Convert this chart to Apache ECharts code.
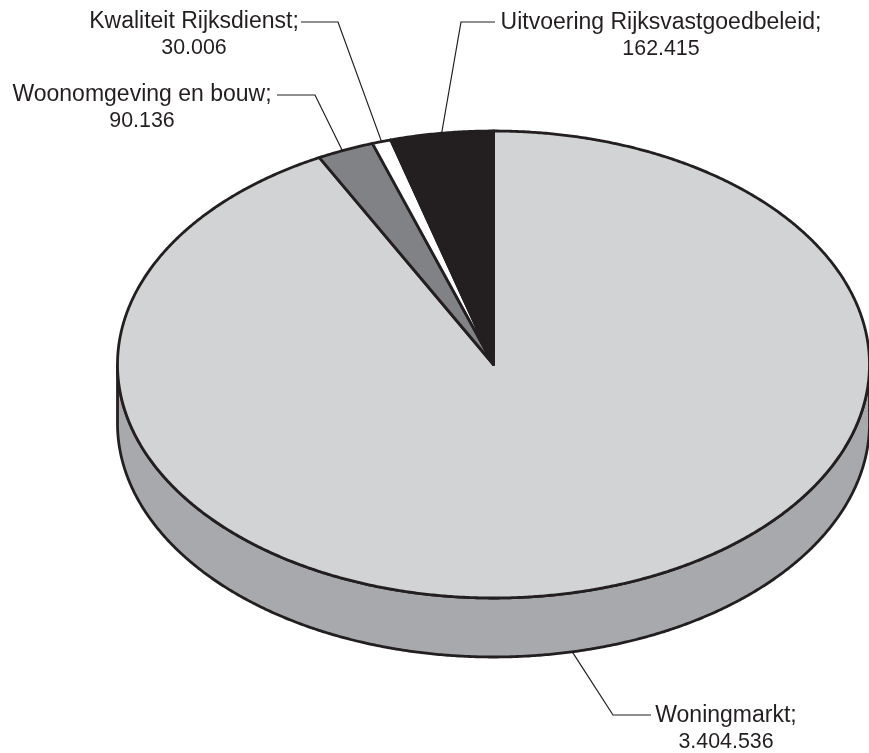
<!DOCTYPE html>
<html>
<head>
<meta charset="utf-8">
<title>Woningmarkt</title>
<script src="https://cdn.jsdelivr.net/npm/echarts@6/dist/echarts.min.js"></script>
<style>
    html, body { margin: 0; padding: 0; background: #fff; }
    #chart { width: 869px; height: 753px; }
</style>
</head>
<body>
<div id="chart"></div>
<script>
// data, clockwise from 12 o'clock
var categories = ['Woningmarkt', 'Woonomgeving en bouw', 'Kwaliteit Rijksdienst', 'Uitvoering Rijksvastgoedbeleid'];
var amounts = [3404536, 90136, 30006, 162415];

// styling per slice
var sliceColors = ['#d1d3d4', '#808285', '#ffffff', '#231f20'];
var wallColor = '#a7a9ac';
var inkColor = '#231f20';

// the tilted disc
var disc = { cx: 493.5, cy: 364.5, rx: 376, ry: 233.5, depth: 59 };

// label placement: text centre, elbow and end of the leader, nudge of the anchor in degrees
var labelSpots = [
    { x: 726, y: 729, elbow: [613, 715], end: [651, 715], nudge: 1.7, onWall: true },
    { x: 142, y: 108, elbow: [315, 95], end: [277, 95], nudge: -0.5 },
    { x: 194, y: 35, elbow: [338, 22], end: [301, 22], nudge: 0 },
    { x: 661, y: 36, elbow: [461, 22], end: [495, 22], nudge: 0 }
];

var total = amounts.reduce(function (a, b) { return a + b; }, 0);

function formatAmount(v) {
    return String(v).replace(/\B(?=(\d{3})+$)/g, '.');
}

// deg is clockwise from the top of the disc
function rimPoint(deg, drop) {
    var rad = deg * Math.PI / 180;
    return [
        disc.cx + disc.rx * Math.sin(rad),
        disc.cy - disc.ry * Math.cos(rad) + (drop || 0)
    ];
}

function arcPoints(from, to, drop) {
    var pts = [];
    var steps = Math.max(2, Math.ceil(Math.abs(to - from) * 3));
    for (var i = 0; i <= steps; i++) {
        pts.push(rimPoint(from + (to - from) * i / steps, drop));
    }
    return pts;
}

function renderSlice(params, api) {
    var i = params.dataIndex;
    var before = 0;
    for (var k = 0; k < i; k++) before += amounts[k];
    var start = before / total * 360;
    var end = (before + api.value(0)) / total * 360;
    var children = [];

    // side wall, only on the front half of the disc
    var wallFrom = Math.max(start, 90);
    var wallTo = Math.min(end, 270);
    if (wallTo > wallFrom) {
        children.push({
            type: 'polygon',
            shape: { points: arcPoints(wallFrom, wallTo, 0).concat(arcPoints(wallTo, wallFrom, disc.depth)) },
            style: { fill: wallColor, stroke: inkColor, lineWidth: 2.8, lineJoin: 'round' }
        });
    }

    children.push({
        type: 'polygon',
        shape: { points: [[disc.cx, disc.cy]].concat(arcPoints(start, end, 0)) },
        style: { fill: sliceColors[i], stroke: inkColor, lineWidth: 2.8, lineJoin: 'round' }
    });

    var spot = labelSpots[i];
    var anchor = rimPoint((start + end) / 2 + spot.nudge, spot.onWall ? disc.depth : 0);
    children.push({
        type: 'polyline',
        shape: { points: [anchor, spot.elbow, spot.end] },
        style: { fill: 'none', stroke: inkColor, lineWidth: 1.2 }
    });
    children.push({
        type: 'text',
        x: spot.x,
        y: spot.y,
        style: {
            text: '{n|' + categories[i] + ';}\n{v|' + formatAmount(api.value(0)) + '}',
            align: 'center',
            verticalAlign: 'middle',
            rich: {
                n: { fill: inkColor, font: '23px "Liberation Sans", Arial, sans-serif', lineHeight: 26 },
                v: { fill: inkColor, font: '21.4px "Liberation Sans", Arial, sans-serif', lineHeight: 26 }
            }
        }
    });
    return { type: 'group', children: children };
}

var chart = echarts.init(document.getElementById('chart'), null, { renderer: 'canvas' });
chart.setOption({
    animation: false,
    backgroundColor: '#ffffff',
    series: [{
        type: 'custom',
        coordinateSystem: 'none',
        silent: true,
        data: amounts.map(function (v, i) { return { name: categories[i], value: [v] }; }),
        renderItem: renderSlice
    }]
});
</script>
</body>
</html>
